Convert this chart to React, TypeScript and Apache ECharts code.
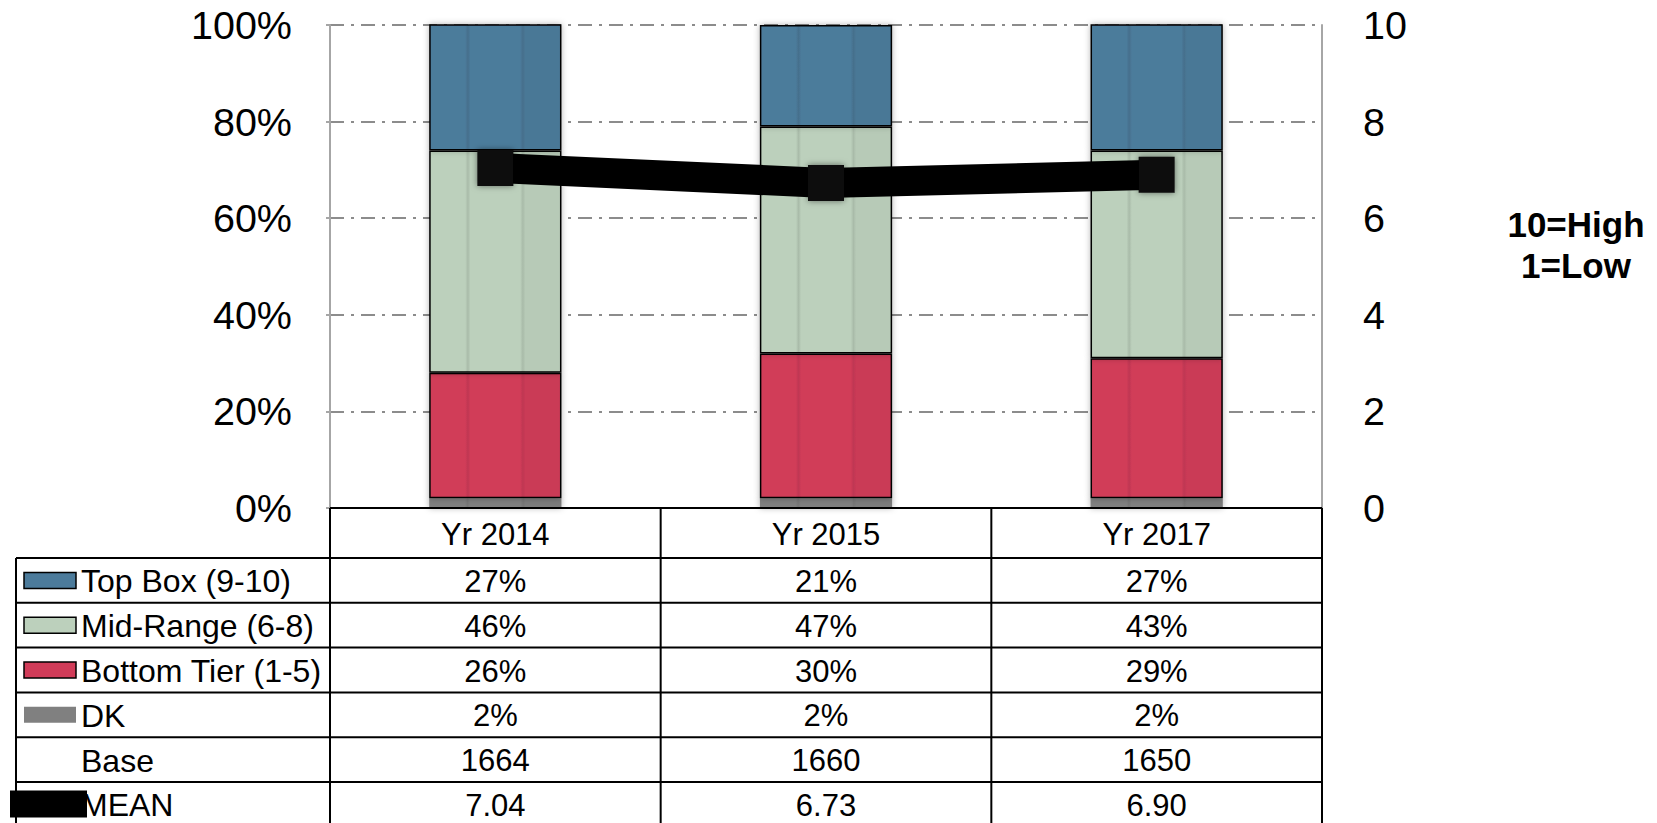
import React, { useEffect, useRef } from "react";
import * as echarts from "echarts";

const categories = ["Yr 2014", "Yr 2015", "Yr 2017"];
const topBox = [27, 21, 27];
const midRange = [46, 47, 43];
const bottomTier = [26, 30, 29];
const dk = [2, 2, 2];
const base = [1664, 1660, 1650];
const mean = [7.04, 6.73, 6.9];
const leftTicks = [0, 20, 40, 60, 80, 100];
const rightTicks = [0, 2, 4, 6, 8, 10];

const C_TOP = "#4c7b9b";
const C_MID = "#bcd0bc";
const C_BOT = "#d13c59";
const C_DK = "#808080";

const FONT = '"Liberation Sans", Arial, sans-serif';

function stripe(c: string, dark: string, dark2: string) {
  return new echarts.graphic.LinearGradient(0, 0, 1, 0, [
    { offset: 0, color: c },
    { offset: 0.27, color: c },
    { offset: 0.29, color: dark },
    { offset: 0.31, color: c },
    { offset: 0.69, color: c },
    { offset: 0.71, color: dark },
    { offset: 0.73, color: dark2 },
    { offset: 1, color: dark2 },
  ]);
}

export default function App() {
  const ref = useRef<HTMLDivElement>(null);
  useEffect(() => {
    document.body.style.margin = "0";
    const chart = echarts.init(ref.current!, null, { renderer: "svg" });

    const W = 1657;
    const H = 823;
    const L = 330;
    const R = 1322;
    const TOP = 25;
    const BASE_Y = 508;
    const TL = 16;
    const HEAD_H = 50;
    const ROW_H = 44.8;
    const colW = (R - L) / 3;
    const colX = (i: number) => L + (i + 0.5) * colW;

    const rows = [
      { label: "Top Box (9-10)", values: topBox.map((v) => v + "%"), icon: C_TOP, border: true },
      { label: "Mid-Range (6-8)", values: midRange.map((v) => v + "%"), icon: C_MID, border: true },
      { label: "Bottom Tier (1-5)", values: bottomTier.map((v) => v + "%"), icon: C_BOT, border: true },
      { label: "DK", values: dk.map((v) => v + "%"), icon: C_DK, border: false },
      { label: "Base", values: base.map((v) => String(v)), icon: null, border: false },
      { label: "MEAN", values: mean.map((v) => v.toFixed(2)), icon: "mean", border: false },
    ];

    const g: any[] = [];
    const lineStyle = { stroke: "#000", lineWidth: 2 };
    g.push({ type: "line", shape: { x1: L, y1: BASE_Y, x2: R, y2: BASE_Y }, style: lineStyle, z: 10 });
    const headBottom = BASE_Y + HEAD_H;
    for (let r = 0; r <= rows.length; r++) {
      const y = headBottom + r * ROW_H;
      g.push({ type: "line", shape: { x1: TL, y1: y, x2: R, y2: y }, style: lineStyle, z: 10 });
    }
    g.push({ type: "line", shape: { x1: TL, y1: headBottom, x2: TL, y2: H }, style: lineStyle, z: 10 });
    for (let i = 0; i <= 3; i++) {
      const x = L + i * colW;
      g.push({ type: "line", shape: { x1: x, y1: BASE_Y, x2: x, y2: H }, style: lineStyle, z: 10 });
    }
    categories.forEach((c, i) => {
      g.push({
        type: "text",
        style: { text: c, x: colX(i), y: BASE_Y + HEAD_H / 2 + 1, textAlign: "center", textVerticalAlign: "middle", font: `31px ${FONT}`, fill: "#000" },
        z: 11,
      });
    });
    rows.forEach((row, r) => {
      const cy = headBottom + (r + 0.5) * ROW_H;
      g.push({
        type: "text",
        style: { text: row.label, x: 81, y: cy + 1, textAlign: "left", textVerticalAlign: "middle", font: `32px ${FONT}`, fill: "#000" },
        z: 11,
      });
      row.values.forEach((v, i) => {
        g.push({
          type: "text",
          style: { text: v, x: colX(i), y: cy + 1, textAlign: "center", textVerticalAlign: "middle", font: `31px ${FONT}`, fill: "#000" },
          z: 11,
        });
      });
      if (row.icon === "mean") {
        g.push({ type: "rect", shape: { x: 10, y: cy - 14, width: 77, height: 27 }, style: { fill: "#000" }, z: 12 });
      } else if (row.icon) {
        g.push({
          type: "rect",
          shape: { x: 24, y: cy - 8, width: 52, height: 16 },
          style: { fill: row.icon, stroke: row.border ? "#000" : null, lineWidth: row.border ? 1.5 : 0 },
          z: 12,
        });
      }
    });
    g.push({
      type: "text",
      style: { text: "10=High", x: 1576, y: 224, textAlign: "center", textVerticalAlign: "middle", font: `bold 35px ${FONT}`, fill: "#000" },
    });
    g.push({
      type: "text",
      style: { text: "1=Low", x: 1576, y: 265, textAlign: "center", textVerticalAlign: "middle", font: `bold 35px ${FONT}`, fill: "#000" },
    });

    const shadow = { shadowBlur: 6, shadowColor: "rgba(0,0,0,0.3)" };
    const barCommon = { type: "bar", stack: "s", barWidth: "40%", yAxisIndex: 0 };

    chart.setOption({
      animation: false,
      grid: { left: L, right: W - R, top: TOP, bottom: H - BASE_Y, containLabel: false },
      xAxis: {
        type: "category",
        data: categories,
        axisLabel: { show: false },
        axisTick: { show: false },
        axisLine: { show: false },
      },
      yAxis: [
        {
          type: "value",
          min: leftTicks[0],
          max: leftTicks[leftTicks.length - 1],
          interval: 20,
          axisLabel: { formatter: "{value}%", fontSize: 39.5, fontFamily: FONT, color: "#000", margin: 38 },
          axisLine: { show: true, lineStyle: { color: "#a6a6a6", width: 2 } },
          axisTick: { show: true, length: 4, lineStyle: { color: "#a6a6a6", width: 2 } },
          splitLine: { show: true, lineStyle: { color: "#8c8c8c", width: 2, type: [14, 7, 3, 7] } },
        },
        {
          type: "value",
          position: "right",
          min: rightTicks[0],
          max: rightTicks[rightTicks.length - 1],
          interval: 2,
          axisLabel: { fontSize: 39.5, fontFamily: FONT, color: "#000", margin: 41 },
          axisLine: { show: true, lineStyle: { color: "#a6a6a6", width: 2 } },
          axisTick: { show: false },
          splitLine: { show: false },
        },
      ],
      series: [
        { ...barCommon, name: "DK", data: dk, itemStyle: { color: stripe(C_DK, "#767676", "#7c7c7c"), ...shadow } },
        {
          ...barCommon,
          name: "Bottom Tier (1-5)",
          data: bottomTier,
          itemStyle: { color: stripe(C_BOT, "#bf3752", "#ca3a56"), borderColor: "#000", borderWidth: 1.5, ...shadow },
        },
        {
          ...barCommon,
          name: "Mid-Range (6-8)",
          data: midRange,
          itemStyle: { color: stripe(C_MID, "#a9bba9", "#b7cab7"), borderColor: "#000", borderWidth: 1.5, ...shadow },
        },
        {
          ...barCommon,
          name: "Top Box (9-10)",
          data: topBox,
          itemStyle: { color: stripe(C_TOP, "#456f8c", "#4a7896"), borderColor: "#000", borderWidth: 1.5, ...shadow },
        },
        {
          type: "line",
          name: "MEAN",
          yAxisIndex: 1,
          data: mean,
          z: 5,
          symbol: "rect",
          symbolSize: 36,
          lineStyle: { color: "#000", width: 30 },
          itemStyle: { color: "#0d0d0d", shadowBlur: 6, shadowColor: "rgba(0,0,0,0.5)" },
        },
      ],
      graphic: g,
    });
    return () => chart.dispose();
  }, []);
  return <div ref={ref} style={{ width: 1657, height: 823 }} />;
}
